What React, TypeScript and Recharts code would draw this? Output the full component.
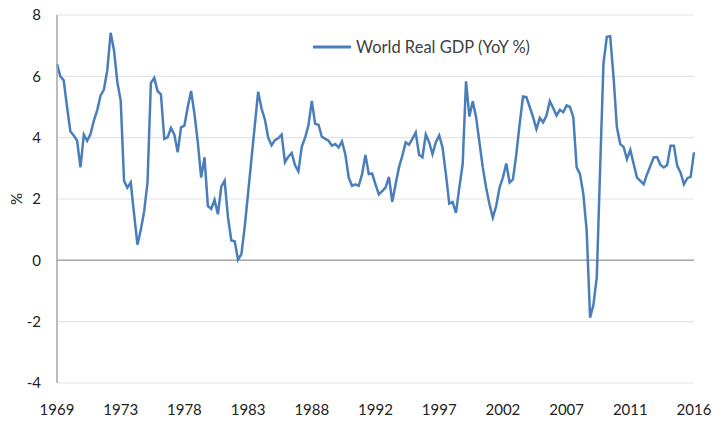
import React from "react";
import {
  CartesianGrid,
  Line,
  LineChart,
  ReferenceLine,
  XAxis,
  YAxis,
} from "recharts";

// quarterly, 1969Q1 .. 2016Q3
const startYear = 1969;

const gdpYoY = [
  6.4, 6.0, 5.87, 5.0, 4.2, 4.07, 3.9, 3.03, 4.1, 3.9, 4.12, 4.56, 4.9, 5.38,
  5.57, 6.2, 7.42, 6.85, 5.81, 5.21, 2.59, 2.37, 2.54, 1.5, 0.51, 1.0, 1.6,
  2.54, 5.78, 5.95, 5.52, 5.41, 3.96, 4.01, 4.32, 4.1, 3.52, 4.34, 4.39, 5.0,
  5.52, 4.78, 3.85, 2.7, 3.36, 1.77, 1.68, 1.97, 1.5, 2.4, 2.6, 1.4, 0.65,
  0.62, 0.02, 0.2, 1.1, 2.2, 3.3, 4.4, 5.5, 4.95, 4.6, 4.0, 3.75, 3.92, 3.98,
  4.1, 3.2, 3.38, 3.5, 3.1, 2.9, 3.7, 4.0, 4.4, 5.2, 4.45, 4.42, 4.03, 3.96,
  3.9, 3.74, 3.79, 3.68, 3.88, 3.46, 2.7, 2.43, 2.48, 2.43, 2.81, 3.44, 2.81,
  2.83, 2.48, 2.15, 2.26, 2.37, 2.72, 1.91, 2.48, 3.03, 3.41, 3.85, 3.77,
  3.96, 4.17, 3.44, 3.36, 4.1, 3.85, 3.46, 3.85, 4.07, 3.68, 2.81, 1.85, 1.9,
  1.55, 2.37, 3.14, 5.84, 4.69, 5.19, 4.67, 3.85, 3.03, 2.37, 1.83, 1.39,
  1.77, 2.37, 2.7, 3.16, 2.54, 2.64, 3.46, 4.45, 5.34, 5.32, 5.0, 4.67, 4.28,
  4.64, 4.5, 4.72, 5.19, 4.97, 4.72, 4.91, 4.83, 5.05, 5.0, 4.67, 3.03, 2.81,
  2.15, 0.95, -1.87, -1.45, -0.55, 3.0, 6.42, 7.29, 7.31, 5.98, 4.34, 3.79,
  3.7, 3.3, 3.6, 3.14, 2.7, 2.59, 2.48, 2.81, 3.08, 3.36, 3.36, 3.11, 3.03,
  3.11, 3.74, 3.74, 3.08, 2.86, 2.48, 2.68, 2.72, 3.52,
];

const quarters = gdpYoY.map(
  (_, i) => `${startYear + Math.floor(i / 4)}Q${(i % 4) + 1}`
);

// Excel shows a label every 19 quarters
const xTicks = quarters.filter((_, i) => i % 19 === 0);
const yTicks = [-4, -2, 0, 2, 4, 6, 8];

const data = quarters.map((q, i) => ({ q, gdp: gdpYoY[i] }));

const LINE_COLOR = "#4a7ebb";
const FONT = "Lato, 'Open Sans', sans-serif";

const LegendBox = () => (
  <div
    style={{
      position: "absolute",
      left: 305,
      top: 29,
      display: "flex",
      alignItems: "center",
      fontFamily: FONT,
      fontSize: 16.5,
      color: "#404040",
      pointerEvents: "none",
    }}
  >
    <svg width={40} height={10}>
      <line x1={0} y1={5} x2={38} y2={5} stroke={LINE_COLOR} strokeWidth={3} />
    </svg>
    <span style={{ marginLeft: 3 }}>World Real GDP (YoY %)</span>
  </div>
);

export default function App() {
  return (
    <div style={{ position: "relative", width: 707, height: 407 }}>
      <div style={{ position: "absolute", left: 0, top: -3 }}>
        <LineChart
          width={707}
          height={416}
          data={data}
          margin={{ top: 10, right: 21, left: 0, bottom: 8 }}
        >
          <CartesianGrid vertical={false} stroke="#e4e4e4" strokeWidth={1.2} />
          <XAxis
            dataKey="q"
            ticks={xTicks}
            interval={0}
            tickFormatter={(v: string) => v.slice(0, 4)}
            axisLine={false}
            tickLine={false}
            tickMargin={15}
            tick={{ fill: "#222", fontSize: 15, fontFamily: FONT }}
          />
          <YAxis
            width={49}
            domain={[-4, 8]}
            ticks={yTicks}
            interval={0}
            axisLine={{ stroke: "#a6a6a6", strokeWidth: 1.5 }}
            tickLine={false}
            tickMargin={10}
            tick={{ fill: "#222", fontSize: 15, fontFamily: FONT }}
            label={{
              value: "%",
              angle: -90,
              position: "insideLeft",
              offset: 9,
              style: {
                fill: "#222",
                fontSize: 15,
                fontFamily: FONT,
                textAnchor: "middle",
              },
            }}
          />
          <ReferenceLine y={0} stroke="#a6a6a6" strokeWidth={1.5} />
          <Line
            type="linear"
            dataKey="gdp"
            stroke={LINE_COLOR}
            strokeWidth={2.5}
            dot={false}
            isAnimationActive={false}
          />
        </LineChart>
      </div>
      <LegendBox />
    </div>
  );
}
